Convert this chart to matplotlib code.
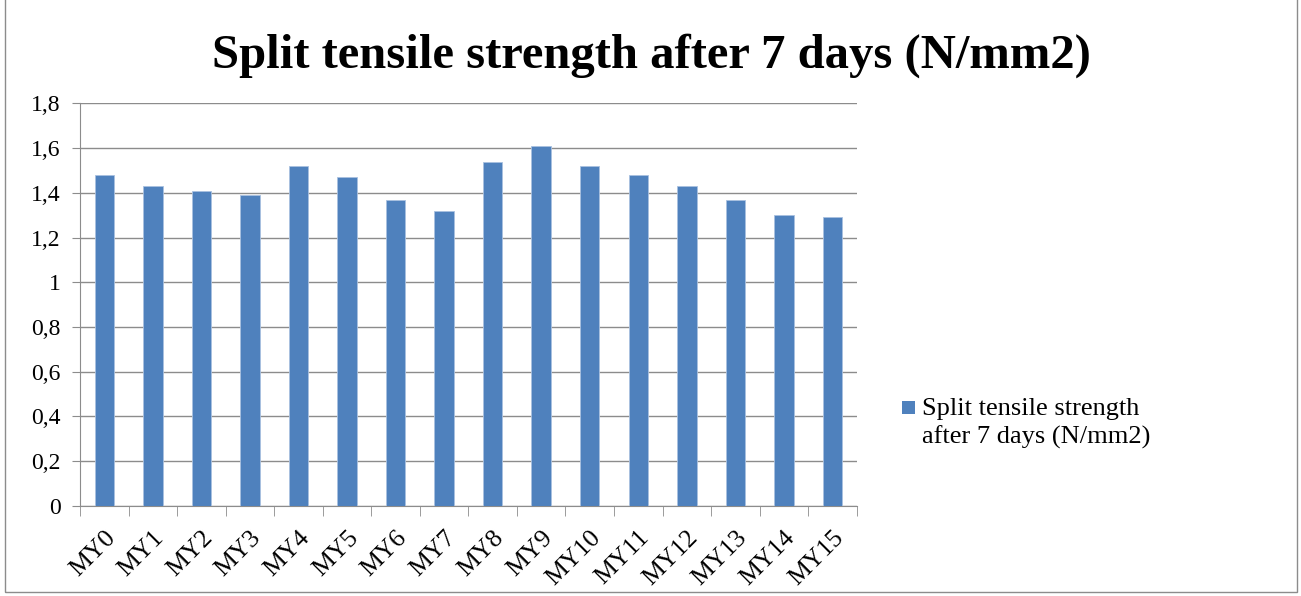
import numpy as np
import matplotlib.pyplot as plt
from matplotlib.patches import Rectangle

# Daten
categories = ['MY0', 'MY1', 'MY2', 'MY3', 'MY4', 'MY5', 'MY6', 'MY7',
              'MY8', 'MY9', 'MY10', 'MY11', 'MY12', 'MY13', 'MY14', 'MY15']
strength = [1.48, 1.43, 1.41, 1.39, 1.52, 1.47, 1.37, 1.32,
            1.54, 1.61, 1.52, 1.48, 1.43, 1.37, 1.30, 1.29]
y_ticks = [0, 0.2, 0.4, 0.6, 0.8, 1.0, 1.2, 1.4, 1.6, 1.8]
y_labels = ['0', '0,2', '0,4', '0,6', '0,8', '1', '1,2', '1,4', '1,6', '1,8']
series_name = 'Split tensile strength\nafter 7 days (N/mm2)'
title = 'Split tensile strength after 7 days (N/mm2)'

plt.rcParams['font.family'] = ['Liberation Serif', 'DejaVu Serif']

fig = plt.figure(figsize=(13.01, 5.96), dpi=100)
ax = fig.add_axes([0.0615, 0.1515, 0.597, 0.675])

# Rahmen um die Grafik
fig.patches.append(Rectangle((0.004, 0.006), 0.993, 1.2, transform=fig.transFigure,
                             fill=False, edgecolor='#8c8c8c', linewidth=1.0))

x = np.arange(len(categories))
ax.bar(x, strength, width=0.4, color='#4F81BD', edgecolor='#a9c1e0',
       linewidth=0.6, zorder=3)

ax.set_xlim(-0.5, len(categories) - 0.5)
ax.set_ylim(0, 1.8)
ax.set_yticks(y_ticks)
ax.set_yticklabels(y_labels, fontsize=17)
ax.set_xticks(x)
ax.set_xticklabels(categories, rotation=45, ha='right', rotation_mode='anchor',
                   fontsize=18.5)
ax.set_xticks(np.arange(-0.5, len(categories) + 0.5, 1), minor=True)
ax.tick_params(axis='x', which='major', length=0, pad=15)
ax.tick_params(axis='x', which='minor', length=7, color='#8c8c8c')
ax.tick_params(axis='y', length=6, color='#8c8c8c', pad=8)

ax.grid(axis='y', color='#8c8c8c', linewidth=1.0, zorder=0)
for s in ['top', 'right']:
    ax.spines[s].set_visible(False)
for s in ['left', 'bottom']:
    ax.spines[s].set_color('#8c8c8c')

fig.text(0.501, 0.907, title, ha='center', va='center', fontsize=35, fontweight='bold')

# Legende
fig.patches.append(Rectangle((0.6933, 0.3054), 0.01, 0.0218, transform=fig.transFigure,
                             facecolor='#4F81BD', edgecolor='none'))
fig.text(0.7085, 0.289, series_name, ha='left', va='center', fontsize=19,
         linespacing=1.3)

fig.savefig('out.png', dpi=100)
